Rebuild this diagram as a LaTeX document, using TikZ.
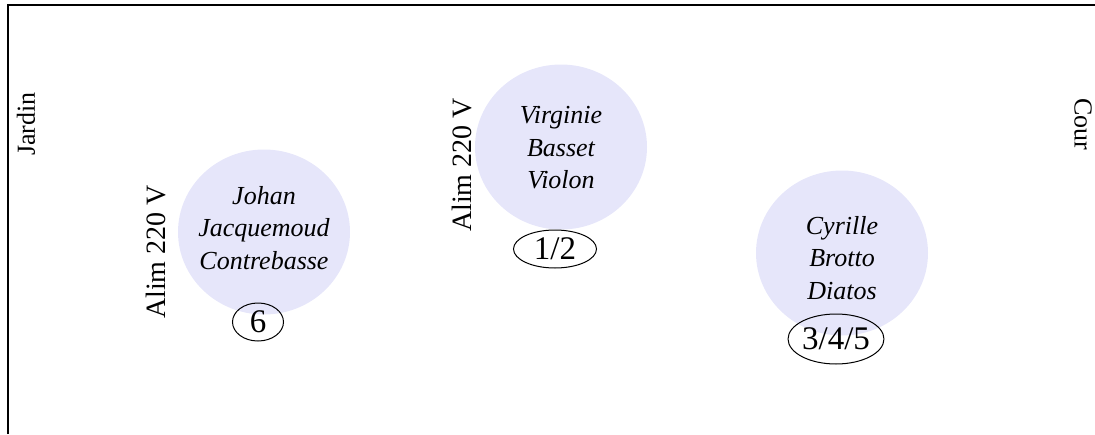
\documentclass[tikz,border=0pt]{standalone}
\usepackage{fontspec}
\setmainfont{Liberation Serif}
\usetikzlibrary{shapes.geometric}
\definecolor{lav}{RGB}{230,230,250}
\begin{document}
\begin{tikzpicture}[x=1pt,y=-1pt,
  musician/.style={ellipse, fill=lav, minimum width=172pt, minimum height=165pt, inner sep=0pt},
  names/.style={align=center, inner sep=0pt, font=\fontsize{26}{32.5}\selectfont\itshape},
  channel/.style={ellipse, draw, line width=1pt, inner sep=0pt, font=\fontsize{33}{33}\selectfont},
  side/.style={font=\fontsize{26}{26}\selectfont, inner sep=0pt},
  alim/.style={font=\fontsize{28}{28}\selectfont, inner sep=0pt, rotate=90}]
\useasboundingbox (0,0) rectangle (1095,434);
\draw[line width=1.5pt] (8,434) -- (8,5) -- (1095,5);
\node[side, rotate=90] (jardin) at (26,124) {Jardin};
\node[side, rotate=-90] (cour) at (1083,124) {Cour};
\node[musician] (johan) at (264,232) {};
\node[names] (johantxt) at (264,228) {Johan\\Jacquemoud\\Contrebasse};
\node[musician] (virginie) at (561,147) {};
\node[names] (virginietxt) at (561,148) {Virginie\\Basset\\Violon};
\node[musician] (cyrille) at (842,253) {};
\node[names] (cyrilletxt) at (842,258) {Cyrille\\Brotto\\Diatos};
\node[alim] (alim1) at (156,252) {Alim 220 V};
\node[alim] (alim2) at (462,165) {Alim 220 V};
\node[channel, minimum width=51pt, minimum height=38pt] (c6) at (258,322) {6};
\node[channel, minimum width=83pt, minimum height=38pt] (c12) at (555,249) {1/2};
\node[channel, minimum width=93pt, minimum height=50pt] (c345) at (836,339) {3/4/5};
\end{tikzpicture}
\end{document}
